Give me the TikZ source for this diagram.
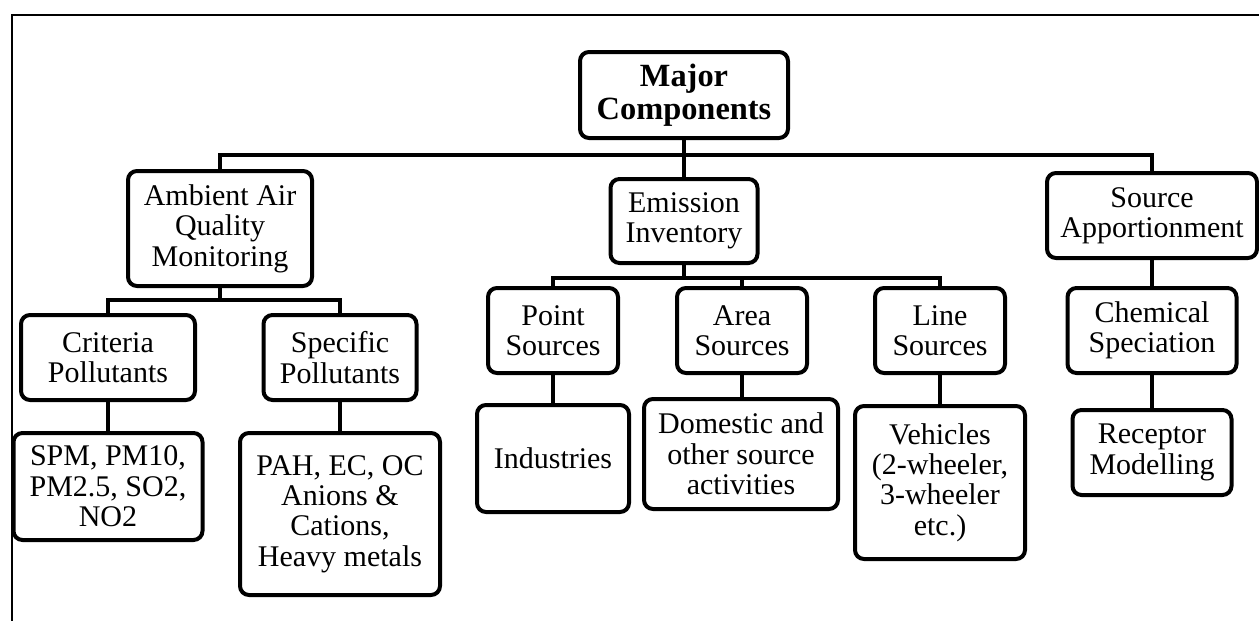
\documentclass[tikz,border=0pt]{standalone}
\usepackage{fontspec}
\setmainfont{Liberation Serif}

\begin{document}
\begin{tikzpicture}[x=0.5pt, y=-0.5pt,
		box/.style={draw, line width=2pt, rounded corners=4.5pt, align=center,
			inner sep=0pt, font=\fontsize{15}{15.2}\selectfont},
		link/.style={line width=2pt}]
		\useasboundingbox (0,0) rectangle (1259,621);

		% Frame
		\draw[line width=0.8pt] (12,621) -- (12,15) -- (1259,15);

		% Top level
		\node[box, minimum width=104pt, minimum height=43pt, font=\fontsize{16.2}{16.4}\selectfont\bfseries]
			(root) at (684,95) {Major\\Components};

		\node[box, minimum width=92pt, minimum height=57.5pt] (ambient) at (220,228.5) {Ambient Air\\Quality\\Monitoring};
		\node[box, minimum width=73.5pt, minimum height=42pt] (emission) at (684,221) {Emission\\Inventory};
		\node[box, minimum width=105pt, minimum height=42.5pt] (apport) at (1152,215.5) {Source\\Apportionment};

		% Ambient air quality branch
		\node[box, minimum width=87pt, minimum height=42.5pt] (criteria) at (108,357.5) {Criteria\\Pollutants};
		\node[box, minimum width=76.5pt, minimum height=42.5pt] (specific) at (340,357.5) {Specific\\Pollutants};
		\node[box, minimum width=94.5pt, minimum height=53.5pt] (spm) at (108,486.5) {SPM, PM10,\\PM2.5, SO2,\\NO2};
		\node[box, minimum width=100pt, minimum height=81pt] (pah) at (340,514) {PAH, EC, OC\\Anions \&\\Cations,\\Heavy metals};

		% Emission inventory branch
		\node[box, minimum width=65pt, minimum height=42.5pt] (point) at (553,330.5) {Point\\Sources};
		\node[box, minimum width=65pt, minimum height=42.5pt] (area) at (742,330.5) {Area\\Sources};
		\node[box, minimum width=65pt, minimum height=42.5pt] (line) at (940,330.5) {Line\\Sources};
		\node[box, minimum width=76pt, minimum height=53.5pt] (industries) at (553,458.5) {Industries};
		\node[box, minimum width=97pt, minimum height=55pt] (domestic) at (741,454) {Domestic and\\other source\\activities};
		\node[box, minimum width=85pt, minimum height=76.5pt] (vehicles) at (940,482.5) {Vehicles\\(2-wheeler,\\3-wheeler\\etc.)};

		% Source apportionment branch
		\node[box, minimum width=84.5pt, minimum height=42.5pt] (chemical) at (1152,330.5) {Chemical\\Speciation};
		\node[box, minimum width=79.5pt, minimum height=42.5pt] (receptor) at (1152,452.5) {Receptor\\Modelling};

		% Connectors
		\coordinate (topbus) at (684,155);
		\coordinate (ambbus) at (220,300);
		\coordinate (emibus) at (684,278);

		\draw[link] (root.south) -- (emission.north);
		\draw[link] (topbus) -| (ambient.north);
		\draw[link] (topbus) -| (apport.north);

		\draw[link] (ambient.south) -- (ambbus) -| (criteria.north);
		\draw[link] (ambbus) -| (specific.north);
		\draw[link] (criteria) -- (spm);
		\draw[link] (specific) -- (pah);

		\draw[link] (emission.south) -- (emibus) -| (point.north);
		\draw[link] (emibus) -| (area.north);
		\draw[link] (emibus) -| (line.north);
		\draw[link] (point) -- (industries);
		\draw[link] (area) -- (area |- domestic.north);
		\draw[link] (line) -- (vehicles);

		\draw[link] (apport) -- (chemical);
		\draw[link] (chemical) -- (receptor);
	\end{tikzpicture}
\end{document}
